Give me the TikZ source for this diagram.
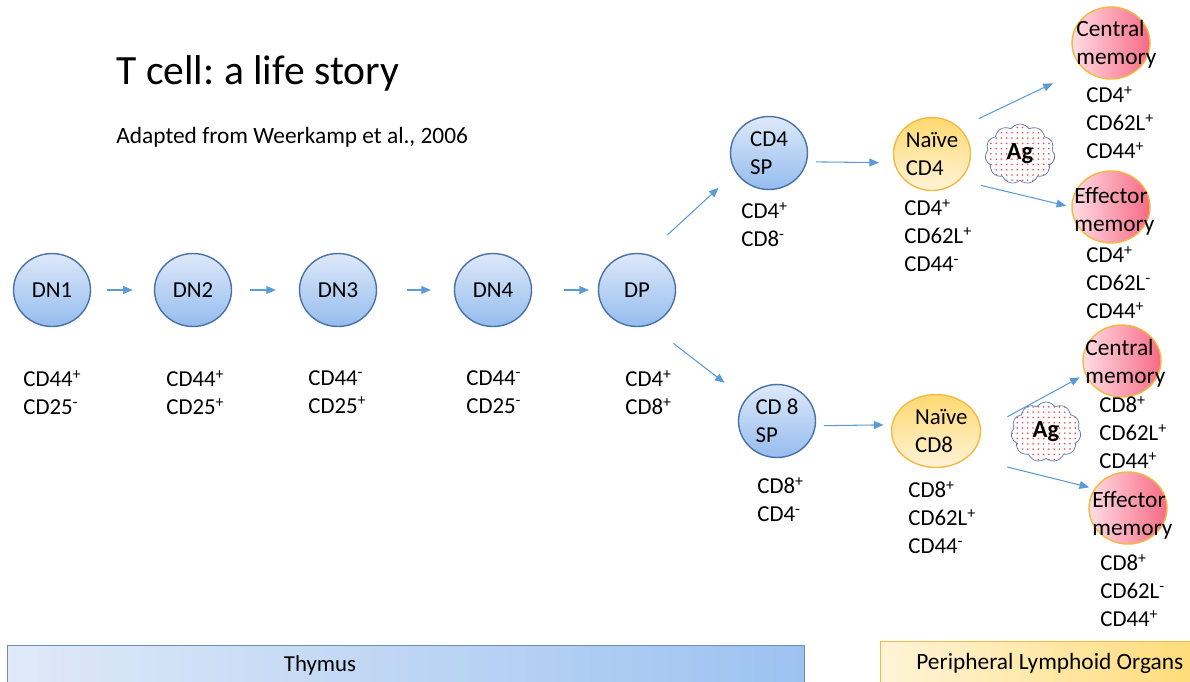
\documentclass[tikz,border=0pt]{standalone}
\usepackage{fontspec}
\setmainfont{Carlito}
\usepackage{tikz}
\usetikzlibrary{positioning, arrows.meta, shapes.geometric, shapes.symbols, patterns}
\frenchspacing

\definecolor{flowblue}{HTML}{5B9BD5}
\definecolor{celledge}{HTML}{4A72A8}
\definecolor{celltop}{HTML}{DDE9F9}
\definecolor{cellbot}{HTML}{95BCEE}
\definecolor{naiveedge}{HTML}{F4B942}
\definecolor{naivetop}{HTML}{FFD870}
\definecolor{naivebot}{HTML}{FFF4D8}
\definecolor{memleft}{HTML}{FFDDE3}
\definecolor{memright}{HTML}{F66A86}
\definecolor{cloudedge}{HTML}{5A7BAB}
\definecolor{thymleft}{HTML}{DFE9F8}
\definecolor{thymright}{HTML}{9CC2F0}
\definecolor{periright}{HTML}{FFDB78}

\newcommand{\sP}{\textsuperscript{+}}
\newcommand{\sM}{\textsuperscript{-}}

\begin{document}
\begin{tikzpicture}[
    >={Triangle[length=5.5pt, width=4.5pt]},
    x=0.02cm, y=-0.02cm,
    cell/.style={ellipse, draw=celledge, thick, top color=celltop, bottom color=cellbot,
        minimum width=1.54cm, minimum height=1.46cm, inner sep=0pt, align=left,
        font=\fontsize{13}{15.9}\selectfont},
    naive/.style={cell, draw=naiveedge, top color=naivetop, bottom color=naivebot},
    memory/.style={ellipse, draw=naiveedge, thick, left color=memleft, right color=memright,
        minimum width=1.56cm, minimum height=1.44cm},
    memtext/.style={anchor=west, inner sep=0pt, align=left, font=\fontsize{13.3}{15.9}\selectfont},
    marker/.style={anchor=north west, inner sep=0pt, align=left, font=\fontsize{13}{15.9}\selectfont},
    flow/.style={->, flowblue, line width=0.6pt},
    antigen/.style={cloud, cloud puffs=11, cloud puff arc=110, aspect=1.15, draw=cloudedge,
        preaction={fill=white}, pattern=dots, pattern color=red!75, inner sep=0pt,
        minimum width=1.4cm, minimum height=1.2cm, font=\bfseries\fontsize{14}{16}\selectfont},
    region/.style={draw, line width=0.8pt, minimum height=0.9cm, anchor=north west, inner sep=0pt}
]
\useasboundingbox (0,0) rectangle (1190,681);

% Title
\node[anchor=base west, inner sep=0pt, font=\fontsize{23.7}{28}\selectfont] (title) at (116,84) {T cell: a life story};
\node[anchor=base west, inner sep=0pt, font=\fontsize{13.3}{16}\selectfont] (source) at (116,143) {Adapted from Weerkamp et al., 2006};

% Thymus stages
\node[cell] (dn1) at (52,290) {DN1};
\node[cell] (dn2) at (193,290) {DN2};
\node[cell] (dn3) at (338,290) {DN3};
\node[cell] (dn4) at (493,290) {DN4};
\node[cell] (dp) at (637,290) {DP};
\node[cell] (sp4) at (769,153) {CD4\\SP};
\node[cell] (sp8) at (777,421) {CD 8\\SP};

% Naive cells
\node[naive] (nc4) at (932,154) {Na\"ive\\CD4};
\node[naive] (nc8) at (936,431) {\hspace*{6pt}Na\"ive\\\hspace*{6pt}CD8};

% Memory cells
\node[memory] (cm4) at (1111,43) {};
\node[memory] (em4) at (1111,207) {};
\node[memory] (cm8) at (1122,361) {};
\node[memory] (em8) at (1128,508) {};
\node[memtext] (cm4t) at (1076,44) {Central\\memory};
\node[memtext] (em4t) at (1074,211) {Effector\\memory};
\node[memtext] (cm8t) at (1085,363) {Central\\memory};
\node[memtext] (em8t) at (1092,515) {Effector\\memory};

% Antigen
\node[antigen] (ag4) at (1020,154) {Ag};
\node[antigen] (ag8) at (1046,432) {Ag};

% Markers
\node[marker] (m1) at (23,370) {CD44\sP\\CD25\sM};
\node[marker] (m2) at (166,370) {CD44\sP\\CD25\sP};
\node[marker] (m3) at (308,370) {CD44\sM\\CD25\sP};
\node[marker] (m4) at (466,370) {CD44\sM\\CD25\sM};
\node[marker] (m5) at (625,370) {CD4\sP\\CD8\sP};
\node[marker] (msp4) at (741,202) {CD4\sP\\CD8\sM};
\node[marker] (msp8) at (757,477) {CD8\sP\\CD4\sM};
\node[marker] (mnc4) at (904,199) {CD4\sP\\CD62L\sP\\CD44\sM};
\node[marker] (mnc8) at (908,481) {CD8\sP\\CD62L\sP\\CD44\sM};
\node[marker] (mcm4) at (1086,86) {CD4\sP\\CD62L\sP\\CD44\sP};
\node[marker] (mem4) at (1086,246) {CD4\sP\\CD62L\sM\\CD44\sP};
\node[marker] (mcm8) at (1099,396) {CD8\sP\\CD62L\sP\\CD44\sP};
\node[marker] (mem8) at (1100,554) {CD8\sP\\CD62L\sM\\CD44\sP};

% Arrows
\draw[flow, shorten <=9pt, shorten >=12pt] (dn1) -- (dn2);
\draw[flow, shorten <=10pt, shorten >=13pt] (dn2) -- (dn3);
\draw[flow, shorten <=17pt, shorten >=13pt] (dn3) -- (dn4);
\draw[flow, shorten <=18pt, shorten >=5pt] (dn4) -- (dp);
\draw[flow, shorten <=16pt, shorten >=13pt] (dp.75) -- (sp4.210);
\draw[flow, shorten <=17pt, shorten >=15pt] (dp.-70) -- (sp8.145);
\draw[flow, shorten <=5pt, shorten >=8.5pt] (sp4.-13) -- (nc4.193);
\draw[flow, shorten <=4.5pt, shorten >=4.5pt] (sp8.-7) -- (nc8.172);
\draw[flow, shorten <=12pt, shorten >=19pt] (nc4.north east) -- (cm4.south west);
\draw[flow, shorten <=12.5pt, shorten >=3pt] (nc4.south east) -- (em4.west);
\draw[flow, shorten <=17pt, shorten >=3.5pt] (nc8.east) -- (cm8.200);
\draw[flow, shorten <=23pt, shorten >=3pt] (nc8.south east) -- (em8.150);

% Regions
\node[region, draw=celledge!80, left color=thymleft, right color=thymright,
      minimum width=15.94cm] (thymus) at (7,645) {};
\node[font=\fontsize{13}{15}\selectfont] (thymust) at (320,665) {Thymus};
\node[region, draw=naiveedge, left color=naivebot, right color=periright,
      minimum width=6.4cm] (periph) at (880,641) {};
\node[anchor=west, inner sep=0pt, font=\fontsize{13.3}{15}\selectfont] (periplt) at (916,663) {Peripheral Lymphoid Organs};

\end{tikzpicture}
\end{document}
